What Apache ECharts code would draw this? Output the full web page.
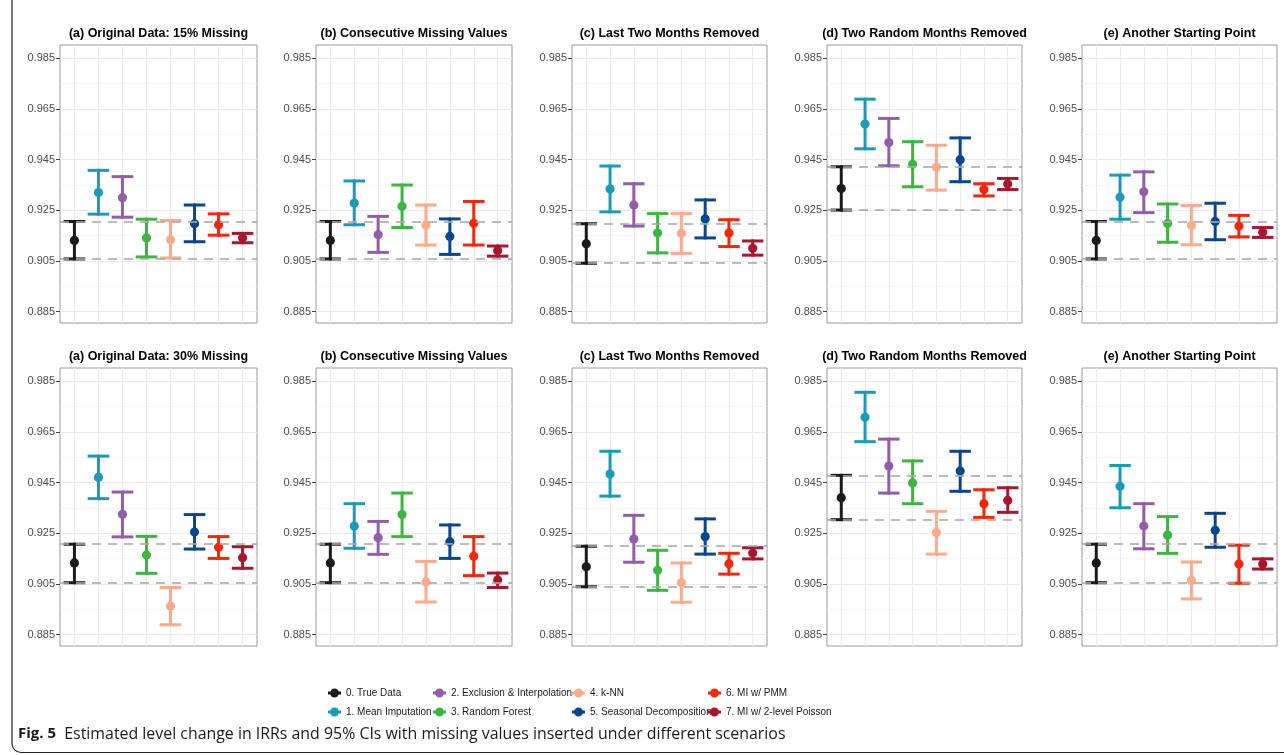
<!DOCTYPE html>
<html><head><meta charset="utf-8">
<script src="https://cdn.jsdelivr.net/npm/echarts@6/dist/echarts.min.js"></script>
<style>html,body{margin:0;padding:0;background:#fff}#chart{width:1284px;height:755px}</style>
</head><body><div id="chart"></div>
<script>
// ---- data ----
const methods = ['0. True Data', '1. Mean Imputation', '2. Exclusion & Interpolation', '3. Random Forest',
  '4. k-NN', '5. Seasonal Decomposition', '6. MI w/ PMM', '7. MI w/ 2-level Poisson'];
const methodColors = ['#1a1a1a', '#1b9bb4', '#915fa8', '#3db542', '#fcab8c', '#0a468c', '#f0280c', '#a8162f'];
const panelTitles = ['(a) Original Data: 15% Missing', '(b) Consecutive Missing Values', '(c) Last Two Months Removed',
  '(d) Two Random Months Removed', '(e) Another Starting Point',
  '(a) Original Data: 30% Missing', '(b) Consecutive Missing Values', '(c) Last Two Months Removed',
  '(d) Two Random Months Removed', '(e) Another Starting Point'];
const yTicks = [0.885, 0.905, 0.925, 0.945, 0.965, 0.985];
const yMinorTicks = [0.895, 0.915, 0.935, 0.955, 0.975];

// Row 1 (15% missing)
const p1Est = [0.9131, 0.9320, 0.9300, 0.9141, 0.9134, 0.9197, 0.9193, 0.9141];
const p1Lo  = [0.9058, 0.9235, 0.9223, 0.9066, 0.9062, 0.9126, 0.9152, 0.9122];
const p1Hi  = [0.9206, 0.9408, 0.9383, 0.9215, 0.9210, 0.9271, 0.9236, 0.9159];

const p2Est = [0.9131, 0.9279, 0.9154, 0.9266, 0.9192, 0.9147, 0.9199, 0.9090];
const p2Lo  = [0.9058, 0.9193, 0.9084, 0.9182, 0.9113, 0.9076, 0.9113, 0.9069];
const p2Hi  = [0.9206, 0.9366, 0.9226, 0.9350, 0.9271, 0.9216, 0.9285, 0.9109];

const p3Est = [0.9118, 0.9334, 0.9271, 0.9160, 0.9159, 0.9216, 0.9160, 0.9100];
const p3Lo  = [0.9041, 0.9244, 0.9188, 0.9082, 0.9080, 0.9141, 0.9107, 0.9073];
const p3Hi  = [0.9197, 0.9425, 0.9355, 0.9237, 0.9237, 0.9291, 0.9213, 0.9129];

const p4Est = [0.9336, 0.9591, 0.9518, 0.9432, 0.9421, 0.9450, 0.9332, 0.9354];
const p4Lo  = [0.9251, 0.9493, 0.9426, 0.9343, 0.9330, 0.9363, 0.9307, 0.9332];
const p4Hi  = [0.9422, 0.9689, 0.9613, 0.9521, 0.9507, 0.9536, 0.9355, 0.9376];

const p5Est = [0.9131, 0.9302, 0.9323, 0.9198, 0.9190, 0.9206, 0.9188, 0.9163];
const p5Lo  = [0.9058, 0.9215, 0.9241, 0.9124, 0.9114, 0.9134, 0.9145, 0.9143];
const p5Hi  = [0.9206, 0.9389, 0.9402, 0.9275, 0.9269, 0.9278, 0.9230, 0.9182];

// Row 2 (30% missing)
const p6Est = [0.9133, 0.9471, 0.9325, 0.9164, 0.8963, 0.9255, 0.9195, 0.9154];
const p6Lo  = [0.9055, 0.9387, 0.9236, 0.9092, 0.8889, 0.9188, 0.9151, 0.9112];
const p6Hi  = [0.9207, 0.9555, 0.9413, 0.9238, 0.9036, 0.9324, 0.9237, 0.9197];

const p7Est = [0.9133, 0.9279, 0.9233, 0.9324, 0.9058, 0.9217, 0.9159, 0.9066];
const p7Lo  = [0.9055, 0.9191, 0.9167, 0.9237, 0.8979, 0.9151, 0.9083, 0.9036];
const p7Hi  = [0.9207, 0.9367, 0.9297, 0.9409, 0.9139, 0.9283, 0.9237, 0.9093];

const p8Est = [0.9118, 0.9484, 0.9228, 0.9104, 0.9055, 0.9237, 0.9130, 0.9172];
const p8Lo  = [0.9039, 0.9397, 0.9136, 0.9025, 0.8978, 0.9168, 0.9089, 0.9149];
const p8Hi  = [0.9199, 0.9574, 0.9321, 0.9183, 0.9133, 0.9307, 0.9171, 0.9193];

const p9Est = [0.9391, 0.9708, 0.9516, 0.9449, 0.9253, 0.9496, 0.9367, 0.9380];
const p9Lo  = [0.9304, 0.9612, 0.9409, 0.9367, 0.9168, 0.9416, 0.9313, 0.9333];
const p9Hi  = [0.9479, 0.9807, 0.9622, 0.9536, 0.9337, 0.9574, 0.9422, 0.9430];

const p10Est = [0.9133, 0.9436, 0.9279, 0.9243, 0.9064, 0.9262, 0.9129, 0.9129];
const p10Lo  = [0.9055, 0.9351, 0.9189, 0.9171, 0.8991, 0.9195, 0.9053, 0.9109];
const p10Hi  = [0.9207, 0.9518, 0.9367, 0.9316, 0.9137, 0.9329, 0.9203, 0.9149];

const caption = 'Estimated level change in IRRs and 95% CIs with missing values inserted under different scenarios';

// ---- assembly ----
const panelEst = [p1Est, p2Est, p3Est, p4Est, p5Est, p6Est, p7Est, p8Est, p9Est, p10Est];
const panelLo = [p1Lo, p2Lo, p3Lo, p4Lo, p5Lo, p6Lo, p7Lo, p8Lo, p9Lo, p10Lo];
const panelHi = [p1Hi, p2Hi, p3Hi, p4Hi, p5Hi, p6Hi, p7Hi, p8Hi, p9Hi, p10Hi];

const colLeft = [60, 316, 572, 827, 1082];
const colWidth = [197, 196, 195, 195, 195];
const rowTop = [45, 368];
const gridH = 278;
const FONT = '"Liberation Sans", Arial, Helvetica, sans-serif';
const CAPFONT = '"Open Sans", "Noto Sans", sans-serif';
const LW = 3;

const grids = [], xAxes = [], yAxes = [], series = [], graphics = [];

function errorBarItem(params, api) {
  const x = api.value(0);
  const lo = api.coord([x, api.value(1)]);
  const mid = api.coord([x, api.value(2)]);
  const hi = api.coord([x, api.value(3)]);
  const half = api.size([0.9, 0])[0] / 2;
  const color = api.visual('color');
  const h = LW / 2;
  return { type: 'group', children: [
    { type: 'rect', shape: { x: hi[0] - h, y: hi[1] - h, width: LW, height: lo[1] - hi[1] + LW },
      style: { fill: color } },
    { type: 'rect', shape: { x: hi[0] - half, y: hi[1] - h, width: 2 * half, height: LW },
      style: { fill: color } },
    { type: 'rect', shape: { x: lo[0] - half, y: lo[1] - h, width: 2 * half, height: LW },
      style: { fill: color } },
    { type: 'circle', shape: { cx: mid[0], cy: mid[1], r: 4.6 }, style: { fill: color } }
  ] };
}

for (let p = 0; p < 10; p++) {
  const r = Math.floor(p / 5), c = p % 5;
  grids.push({ left: colLeft[c], top: rowTop[r], width: colWidth[c], height: gridH,
    show: true, backgroundColor: '#fff', borderColor: '#9a9a9a', borderWidth: 1 });
  xAxes.push({ gridIndex: p, type: 'value', min: 0.4, max: 8.6,
    axisLine: { show: false }, axisTick: { show: false }, axisLabel: { show: false }, splitLine: { show: false } });
  yAxes.push({ gridIndex: p, type: 'value', min: 0.8805, max: 0.9903,
    axisLine: { show: false },
    axisTick: { show: true, length: 4, customValues: yTicks, lineStyle: { color: '#444', width: 1 } },
    axisLabel: { show: true, customValues: yTicks, margin: 5, fontSize: 11, fontFamily: FONT, color: '#4d4d4d',
      formatter: v => v.toFixed(3) },
    splitLine: { show: false } });

  // background grid lines
  const gl = [];
  yTicks.forEach(v => gl.push({ yAxis: v, lineStyle: { color: '#ebebeb', width: 1.2, type: 'solid' } }));
  yMinorTicks.forEach(v => gl.push({ yAxis: v, lineStyle: { color: '#f3f3f3', width: 0.8, type: 'solid' } }));
  methods.forEach((m, i) => gl.push({ xAxis: i + 1, lineStyle: { color: '#ebebeb', width: 1.2, type: 'solid' } }));
  series.push({ type: 'line', xAxisIndex: p, yAxisIndex: p, data: [], z: 1, silent: true,
    markLine: { z: 1, silent: true, symbol: 'none', precision: 6, animation: false, label: { show: false }, data: gl } });

  // error bars
  methods.forEach((m, i) => {
    series.push({
      name: m, type: 'custom', xAxisIndex: p, yAxisIndex: p, z: 10,
      itemStyle: { color: methodColors[i] },
      data: [[i + 1, panelLo[p][i], panelEst[p][i], panelHi[p][i]]],
      renderItem: errorBarItem
    });
  });

  // dashed reference lines at the true-data CI bounds
  series.push({ type: 'line', xAxisIndex: p, yAxisIndex: p, data: [], z: 20, silent: true,
    markLine: { z: 20, silent: true, symbol: 'none', precision: 6, animation: false, label: { show: false },
      lineStyle: { color: 'rgba(170,170,170,0.8)', width: 2.2, type: [9, 7] },
      data: [{ yAxis: panelLo[p][0] }, { yAxis: panelHi[p][0] }] } });

  graphics.push({ type: 'text', x: colLeft[c] + colWidth[c] / 2, y: rowTop[r] - 11,
    style: { text: panelTitles[p], align: 'center', verticalAlign: 'middle', fontSize: 12.5,
      fontWeight: 'bold', fontFamily: FONT, fill: '#000' } });
}

// caption
graphics.push({ type: 'text', x: 18, y: 734,
  style: { text: '{b|Fig. 5}  ' + caption, verticalAlign: 'middle', fontSize: 15.9,
    fontFamily: CAPFONT, fill: '#1a1a1a',
    rich: { b: { fontWeight: 'bold', fontSize: 15, fontFamily: CAPFONT, fill: '#1a1a1a' } } } });
// figure frame
graphics.push({ type: 'rect', z: -1, shape: { x: 12, y: -20, width: 1300, height: 772.5, r: 9 },
  style: { fill: 'none', stroke: '#222', lineWidth: 1.2 } });

const legendIcon = 'path://M0,3.5 L14,3.5 L14,6.5 L0,6.5 Z M2.2,5 A4.8,4.8 0 1,1 11.8,5 A4.8,4.8 0 1,1 2.2,5 Z';
const legendCols = [328, 433, 572, 708];
const legends = legendCols.map((lx, k) => ({
  data: [methods[2 * k], methods[2 * k + 1]], orient: 'vertical', left: lx, top: 688,
  icon: legendIcon, itemWidth: 13, itemHeight: 9, itemGap: 9, padding: 0, selectedMode: false,
  textStyle: { fontSize: 10, fontFamily: FONT, color: '#1a1a1a' }
}));

const chart = echarts.init(document.getElementById('chart'), null, { renderer: 'canvas' });
chart.setOption({
  animation: false,
  backgroundColor: '#fff',
  grid: grids, xAxis: xAxes, yAxis: yAxes, series: series,
  legend: legends, graphic: graphics
});
</script></body></html>
